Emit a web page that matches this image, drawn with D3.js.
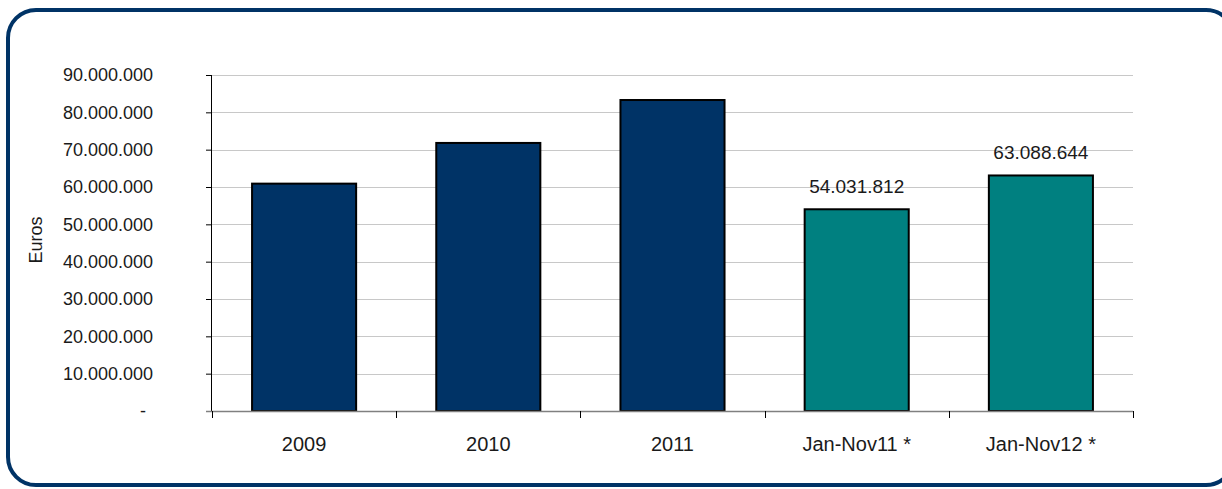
<!DOCTYPE html>
<html>
<head>
<meta charset="utf-8">
<script src="https://cdn.jsdelivr.net/npm/d3@7.9.0/dist/d3.min.js"></script>
<style>
  body { margin: 0; background: #fff; }
  svg { display: block; font-family: "Liberation Sans", Arial, sans-serif; }
</style>
</head>
<body>
<svg id="chart" width="1222" height="489"></svg>
<script>
const categories = ['2009', '2010', '2011', 'Jan-Nov11 *', 'Jan-Nov12 *'];
const values = [60900000, 71800000, 83300000, 54031812, 63088644];
const barColors = ['#003366', '#003366', '#003366', '#008080', '#008080'];
const labelled = [false, false, false, true, true];
const yTicks = d3.range(0, 90000001, 10000000);

const svg = d3.select('#chart');
const textColor = '#1a1a1a';

// rounded frame
svg.append('rect')
  .attr('x', 8).attr('y', 10)
  .attr('width', 1226).attr('height', 475)
  .attr('rx', 28).attr('ry', 28)
  .attr('fill', 'none')
  .attr('stroke', '#003366')
  .attr('stroke-width', 4);

const margin = { left: 212, right: 1133, top: 75, bottom: 411 };

const x = d3.scaleBand().domain(categories)
  .range([margin.left, margin.right])
  .paddingInner(0.435).paddingOuter(0.2175);

const y = d3.scaleLinear().domain([0, 90000000]).range([margin.bottom, margin.top]);

const fmt = v => v === 0 ? '-' : d3.format(',')(v).replace(/,/g, '.');

// gridlines
svg.append('g').selectAll('line')
  .data(yTicks.filter(d => d > 0))
  .join('line')
  .attr('x1', margin.left).attr('x2', margin.right)
  .attr('y1', d => Math.round(y(d)) + 0.5).attr('y2', d => Math.round(y(d)) + 0.5)
  .attr('stroke', '#c8c8c8').attr('stroke-width', 1);

// y axis
const yAxis = svg.append('g')
  .attr('transform', `translate(${margin.left},0)`)
  .call(d3.axisLeft(y).tickValues(yTicks).tickSize(6).tickPadding(53).tickFormat(fmt));
yAxis.select('.domain').attr('stroke', '#000').attr('d', `M-0.5,${margin.top}V${margin.bottom}`);
yAxis.selectAll('.tick line').attr('stroke', '#000');
yAxis.selectAll('.tick text')
  .attr('font-size', 18).attr('fill', textColor)
  .attr('font-family', '"Liberation Sans", Arial, sans-serif');
yAxis.selectAll('.tick').filter(d => d === 0).select('text').attr('dx', -7);

// bars
svg.append('g').selectAll('rect')
  .data(values)
  .join('rect')
  .attr('x', (d, i) => x(categories[i]))
  .attr('y', d => y(d))
  .attr('width', x.bandwidth())
  .attr('height', d => y(0) - y(d))
  .attr('fill', (d, i) => barColors[i])
  .attr('stroke', '#000')
  .attr('stroke-width', 2);

// x axis
const step = (margin.right - margin.left) / categories.length;
svg.append('line')
  .attr('x1', margin.left - 6).attr('x2', margin.right)
  .attr('y1', margin.bottom + 0.5).attr('y2', margin.bottom + 0.5)
  .attr('stroke', '#808080').attr('stroke-width', 1.5);
svg.append('g').selectAll('line')
  .data(d3.range(categories.length + 1))
  .join('line')
  .attr('x1', i => Math.round(margin.left + i * step) + 0.5)
  .attr('x2', i => Math.round(margin.left + i * step) + 0.5)
  .attr('y1', margin.bottom).attr('y2', margin.bottom + 7)
  .attr('stroke', '#000');

svg.append('g').selectAll('text')
  .data(categories)
  .join('text')
  .attr('x', d => x(d) + x.bandwidth() / 2)
  .attr('y', 451)
  .attr('text-anchor', 'middle')
  .attr('font-size', 20)
  .attr('fill', textColor)
  .text(d => d);

// value labels
svg.append('g').selectAll('text')
  .data(values.map((v, i) => ({ v, i })).filter(d => labelled[d.i]))
  .join('text')
  .attr('x', d => x(categories[d.i]) + x.bandwidth() / 2)
  .attr('y', d => y(d.v) - 16)
  .attr('text-anchor', 'middle')
  .attr('font-size', 19)
  .attr('fill', textColor)
  .text(d => fmt(d.v));

// y title
svg.append('text')
  .attr('transform', 'translate(42,240) rotate(-90)')
  .attr('text-anchor', 'middle')
  .attr('font-size', 18)
  .attr('fill', textColor)
  .text('Euros');
</script>
</body>
</html>
